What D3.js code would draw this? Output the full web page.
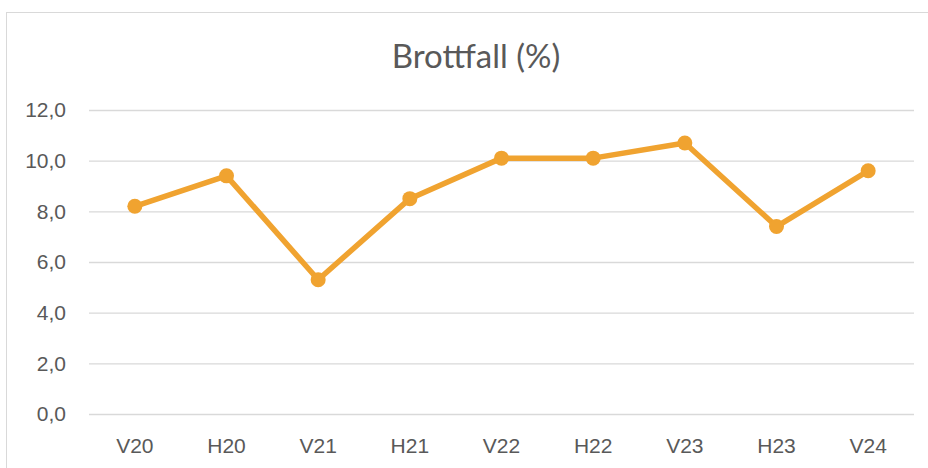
<!DOCTYPE html>
<html>
<head>
<meta charset="utf-8">
<script src="https://cdn.jsdelivr.net/npm/d3@7"></script>
<style>
  body { margin: 0; background: #fff; }
  svg { display: block; font-family: Lato, "Open Sans", sans-serif; }
</style>
</head>
<body>
<svg id="chart" width="928" height="468"></svg>
<script>
// data
const categories = ["V20", "H20", "V21", "H21", "V22", "H22", "V23", "H23", "V24"]
const values = [8.2, 9.4, 5.3, 8.5, 10.1, 10.1, 10.7, 7.4, 9.6]
const yTicks = [0, 2, 4, 6, 8, 10, 12]
const title = "Brottfall (%)"

const width = 928
const height = 468
const margin = {top: 110, right: 14, bottom: 54, left: 89}

const svg = d3.select("#chart")

// chart border (Excel chart area)
svg.append("rect")
    .attr("x", 6.5)
    .attr("y", 12.5)
    .attr("width", 940)
    .attr("height", 480)
    .attr("fill", "none")
    .attr("stroke", "#d9d9d9")
    .attr("stroke-width", 1)

const x = d3.scaleBand()
    .domain(categories)
    .range([margin.left, width - margin.right])

const y = d3.scaleLinear()
    .domain([0, 12])
    .range([height - margin.bottom, margin.top])

const fmt = d => d.toFixed(1).replace(".", ",")

// gridlines + y labels
const yAxis = svg.append("g")
    .attr("transform", `translate(${margin.left},0)`)
    .call(d3.axisLeft(y).tickValues(yTicks).tickFormat(fmt)
      .tickSize(-(width - margin.left - margin.right)).tickPadding(23))

yAxis.select(".domain").remove()
yAxis.selectAll(".tick line")
    .attr("stroke", "#d9d9d9")
    .attr("stroke-width", 1.3)
yAxis.selectAll(".tick text")
    .attr("fill", "#595959")
    .attr("font-size", 21)

// x labels
const xAxis = svg.append("g")
    .attr("transform", `translate(0,${height - margin.bottom})`)
    .call(d3.axisBottom(x).tickSize(0).tickPadding(24))

xAxis.select(".domain").remove()
xAxis.selectAll(".tick text")
    .attr("fill", "#595959")
    .attr("font-size", 21)
    .attr("dy", "0.71em")

// title
svg.append("text")
    .attr("x", 476)
    .attr("y", 68)
    .attr("text-anchor", "middle")
    .attr("fill", "#595959")
    .attr("font-size", 33)
    .text(title)

const points = categories.map((c, i) => ({c: c, v: values[i]}))

const line = d3.line()
    .x(d => x(d.c) + x.bandwidth() / 2)
    .y(d => y(d.v))

svg.append("path")
    .datum(points)
    .attr("d", line)
    .attr("fill", "none")
    .attr("stroke", "#f0a330")
    .attr("stroke-width", 5.5)
    .attr("stroke-linejoin", "round")
    .attr("stroke-linecap", "round")

svg.append("g")
  .selectAll("circle")
  .data(points)
  .join("circle")
    .attr("cx", d => x(d.c) + x.bandwidth() / 2)
    .attr("cy", d => y(d.v))
    .attr("r", 7.5)
    .attr("fill", "#f0a330")
</script>
</body>
</html>
